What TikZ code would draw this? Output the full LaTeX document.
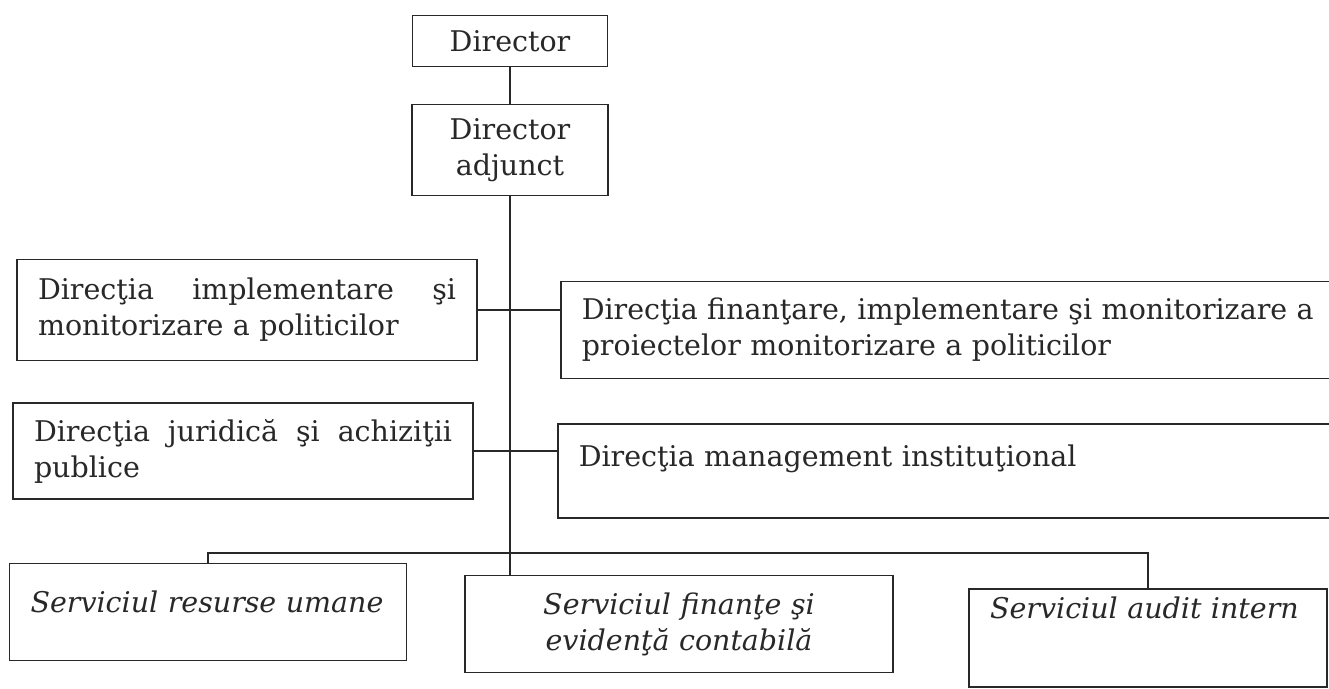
\documentclass[tikz,border=0pt]{standalone}
\usepackage{fontspec}
\setmainfont{DejaVu Serif}
\usetikzlibrary{positioning,calc}
\definecolor{inkgray}{RGB}{40,40,40}

\newcommand{\orgfont}{\fontsize{28.5}{36}\selectfont}

\begin{document}
\begin{tikzpicture}[x=1pt, y=-1pt,
    unit/.style={rectangle, draw=inkgray, line width=1.5pt, text=inkgray, inner xsep=21pt, inner ysep=4pt, font=\orgfont},
    srvunit/.style={unit, font=\orgfont\itshape},
    link/.style={draw=inkgray, line width=1.5pt}]
    \path[use as bounding box, clip] (0,0) rectangle (1329,688);

    % Conducere
    \node[unit, minimum width=195pt, minimum height=51pt] (dir) at (510,41) {Director};
    \node[unit, minimum width=196pt, minimum height=91pt, align=center] (adj) at (510,150) {Director\\adjunct};

    % Directii
    \node[unit, text width=418pt, minimum height=101pt] (pol) at (247,310) {Direcţia\hfill implementare\hfill şi\\monitorizare a politicilor};
    \node[unit, text width=780pt, minimum height=97pt, align=left, anchor=west] (proj) at (560,330) {Direcţia finanţare, implementare şi monitorizare a\\proiectelor monitorizare a politicilor};
    \node[unit, text width=418pt, minimum height=96pt] (jur) at (243,451) {Direcţia\hfill juridică\hfill şi\hfill achiziţii\\publice};
    \node[unit, text width=780pt, minimum height=94pt, align=left, anchor=west, text depth=30pt] (inst) at (557,471) {Direcţia management instituţional};

    % Servicii
    \node[srvunit, text width=355pt, minimum height=97pt, align=left, text depth=21pt] (srv1) at (208,612) {Serviciul resurse umane};
    \node[srvunit, text width=386pt, minimum height=97pt, align=center] (srv2) at (679,624) {Serviciul finanţe şi\\evidenţă contabilă};
    \node[srvunit, text width=316pt, minimum height=98pt, align=left, text depth=60pt] (srv3) at (1148,638) {Serviciul audit intern};

    % Legaturi
    \draw[link] (dir) -- (adj);
    \draw[link] (adj.south) -- (adj.south |- srv2.north);
    \draw[link] (pol.east) -- (pol.east -| proj.west);
    \draw[link] (jur.east) -- (jur.east -| inst.west);
    \coordinate (bus) at (510,553);
    \draw[link] (srv1.north) |- (bus) -| (srv3.north);
\end{tikzpicture}
\end{document}
